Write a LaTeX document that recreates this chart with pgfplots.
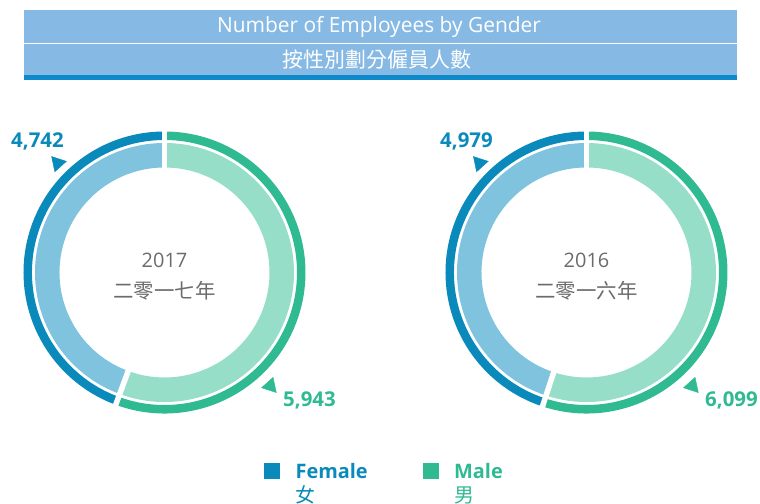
\documentclass[border=0pt]{standalone}
\usepackage{pgfplots}
\usepackage{pgfplotstable}
\pgfplotsset{compat=1.18}
\usepackage{fontspec}
\setmainfont{Open Sans}
\newfontfamily\cjk{Noto Sans CJK TC}

\definecolor{hdr}{HTML}{86BAE4}
\definecolor{hdrline}{HTML}{0E8ACB}
\definecolor{fdark}{HTML}{0A8ABB}
\definecolor{flight}{HTML}{80C3DE}
\definecolor{mdark}{HTML}{30BA91}
\definecolor{mlight}{HTML}{97DEC9}
\definecolor{txtgray}{HTML}{6B6B6B}

\pgfplotstableread{
year female male
2017 4742 5943
2016 4979 6099
}\emp

% annular sector: cx cy a1 a2 r R colour
\newcommand\sector[7]{%
  \fill[#7] ([shift={(#3:#6bp)}]axis cs:#1,#2) arc[start angle=#3,end angle=#4,radius=#6bp]
    -- ([shift={(#4:#5bp)}]axis cs:#1,#2) arc[start angle=#4,end angle=#3,radius=#5bp] -- cycle;}
% one donut: cx cy split-angle year-text chinese-year
\newcommand\donut[5]{%
  \sector{#1}{#2}{90}{#3}{132.5}{141}{fdark}
  \sector{#1}{#2}{#3}{450}{132.5}{141}{mdark}
  \sector{#1}{#2}{90}{#3}{105}{129.5}{flight}
  \sector{#1}{#2}{#3}{450}{105}{129.5}{mlight}
  \draw[white,line width=5.5bp] ([shift={(90:100bp)}]axis cs:#1,#2) -- ([shift={(90:146bp)}]axis cs:#1,#2);
  \draw[white,line width=5.5bp] ([shift={(#3:100bp)}]axis cs:#1,#2) -- ([shift={(#3:146bp)}]axis cs:#1,#2);
  \node[anchor=base,text=txtgray,font=\fontsize{20}{24}\selectfont] at (axis cs:#1,236) {#4};
  \node[text=txtgray,font=\fontsize{20.5}{24}\selectfont\cjk] at (axis cs:#1,213) {#5};}

\begin{document}
\begin{tikzpicture}
\pgfplotstablegetelem{0}{female}\of\emp \let\fA\pgfplotsretval
\pgfplotstablegetelem{0}{male}\of\emp \let\mA\pgfplotsretval
\pgfplotstablegetelem{1}{female}\of\emp \let\fB\pgfplotsretval
\pgfplotstablegetelem{1}{male}\of\emp \let\mB\pgfplotsretval
\pgfmathsetmacro\aA{90+360*(\fA/(\fA+\mA))}
\pgfmathsetmacro\aB{90+360*(\fB/(\fB+\mB))}
\useasboundingbox (0,0) rectangle (760bp,504bp);
\begin{axis}[
  hide axis, scale only axis, clip=false,
  width=760bp, height=504bp,
  xmin=0, xmax=760, ymin=0, ymax=504,
  legend style={at={(axis cs:264,43)}, anchor=north west, draw=none, fill=none,
    inner sep=0pt, legend columns=2, cells={align=left},
    font=\fontsize{20}{24}\selectfont,
    /tikz/every odd column/.append style={column sep=14bp},
    /tikz/every even column/.append style={column sep=53bp}},
  legend cell align=left,
  legend image code/.code={\fill[#1] (0bp,5bp) rectangle (15bp,20bp);},
]
% header
\fill[hdr] (axis cs:24,494) rectangle (axis cs:737,461);
\fill[hdr] (axis cs:24,459.5) rectangle (axis cs:737,429);
\fill[hdrline] (axis cs:24,429) rectangle (axis cs:737,424);
\node[anchor=base,text=white,font=\fontsize{21}{25}\selectfont] at (axis cs:379,471) {Number of Employees by Gender};
\node[text=white,font=\fontsize{21}{25}\selectfont\cjk] at (axis cs:377,444) {按性別劃分僱員人數};

\donut{164.5}{231.5}{\aA}{2017}{二零一七年}
\donut{586.5}{231.5}{\aB}{2016}{二零一六年}

% pointers
\addplot[forget plot, only marks, mark=triangle*, mark size=9pt, fdark, mark options={rotate=-78}]
  coordinates {(57.6,340.8) (479.4,340.8)};
\addplot[forget plot, only marks, mark=triangle*, mark size=9pt, mdark, mark options={rotate=-18}]
  coordinates {(270.3,118.1) (692.3,118.1)};

% value labels
\node[anchor=base,text=fdark,font=\fontsize{20.5}{24}\selectfont\bfseries] at (axis cs:37.5,356) {4,742};
\node[anchor=base,text=mdark,font=\fontsize{20.5}{24}\selectfont\bfseries] at (axis cs:309.5,97) {5,943};
\node[anchor=base,text=fdark,font=\fontsize{20.5}{24}\selectfont\bfseries] at (axis cs:466.5,356) {4,979};
\node[anchor=base,text=mdark,font=\fontsize{20.5}{24}\selectfont\bfseries] at (axis cs:731.5,97) {6,099};

\addlegendimage{fdark}
\addlegendentry[text=fdark]{\textbf{Female}\\{\cjk 女}}
\addlegendimage{mdark}
\addlegendentry[text=mdark]{\textbf{Male}\\{\cjk 男}}
\end{axis}
\end{tikzpicture}
\end{document}
